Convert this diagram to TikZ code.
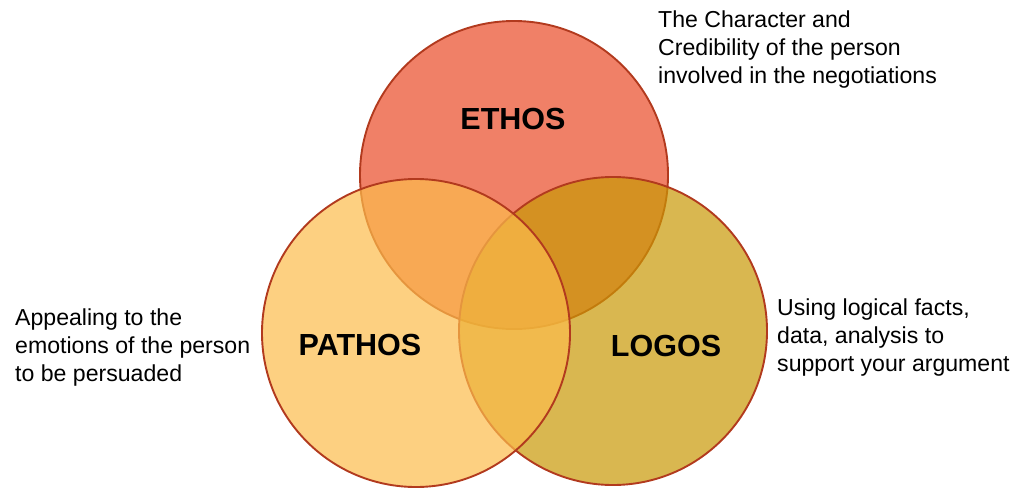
\documentclass[tikz,border=0pt]{standalone}
\usepackage{fontspec}
\setmainfont{Liberation Sans}
\definecolor{edgec}{RGB}{178,58,30}
\definecolor{ethosc}{RGB}{234,74,39}
\definecolor{pathosc}{RGB}{252,188,76}
\definecolor{logosc}{RGB}{201,152,5}
\begin{document}
\begin{tikzpicture}[x=1pt,y=-1pt,
  venn/.style={circle, minimum size=308pt, inner sep=0pt, draw=edgec, line width=1.9pt, fill opacity=0.7},
  big/.style={font=\fontsize{30.5}{36}\selectfont\bfseries},
  desc/.style={font=\fontsize{23.1}{28}\selectfont, align=left, anchor=west, inner sep=0pt}]
\useasboundingbox (0,0) rectangle (1024,487);
\node[venn, fill=ethosc] (ethos) at (514,175) {};
\node[venn, fill=logosc] (logos) at (613,331) {};
\node[venn, fill=pathosc] (pathos) at (416,333) {};
\node[big] (tethos) at (513,119) {ETHOS};
\node[big] (tpathos) at (360,345) {PATHOS};
\node[big] (tlogos) at (666,346) {LOGOS};
\node[desc] (dethos) at (658,50) {The Character and\\Credibility of the person\\involved in the negotiations};
\node[desc] (dpathos) at (15,348) {Appealing to the\\emotions of the person\\to be persuaded};
\node[desc] (dlogos) at (777,338) {Using logical facts,\\data, analysis to\\support your argument};
\end{tikzpicture}
\end{document}
